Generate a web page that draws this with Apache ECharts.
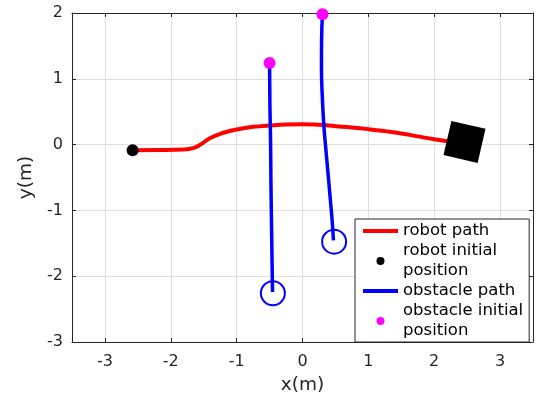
<!DOCTYPE html>
<html>
<head>
<meta charset="utf-8">
<script src="https://cdn.jsdelivr.net/npm/echarts@6/dist/echarts.min.js"></script>
<style>
  html, body { margin: 0; padding: 0; background: #fff; }
  #chart { width: 556px; height: 398px; }
</style>
</head>
<body>
<div id="chart"></div>
<script>
// robot trajectory (x, y in metres)
const robotPath = [
  [-2.58, -0.085], [-2.2, -0.083], [-1.8, -0.075], [-1.65, -0.05], [-1.55, 0.0],
  [-1.4, 0.1], [-1.2, 0.18], [-1.0, 0.23], [-0.75, 0.27], [-0.5, 0.29],
  [-0.25, 0.305], [0, 0.31], [0.25, 0.3], [0.5, 0.28], [0.75, 0.26],
  [1.0, 0.235], [1.25, 0.205], [1.5, 0.17], [1.75, 0.125], [2.0, 0.08], [2.2, 0.05]
]
const robotStart = [[-2.58, -0.085]]
const robotBody = [[2.46, 0.04]]

// obstacle trajectories
const obstacle1Path = [
  [-0.5, 1.24], [-0.495, 0.6], [-0.485, 0.07], [-0.48, -0.5],
  [-0.474, -0.95], [-0.465, -1.6], [-0.455, -2.24]
]
const obstacle2Path = [
  [0.303, 1.98], [0.29, 1.59], [0.288, 1.18], [0.303, 0.676], [0.324, 0.295],
  [0.35, -0.02], [0.379, -0.34], [0.424, -0.85], [0.45, -1.15], [0.47, -1.455]
]
const obstacleStarts = [[-0.5, 1.24], [0.303, 1.98]]
const obstacleEnds = [[-0.45, -2.26], [0.48, -1.475]]

const legendNames = ['robot path', 'robot initial\nposition', 'obstacle path', 'obstacle initial\nposition']

const axisColor = '#262626'
const gridColor = '#dedede'
const font = 'DejaVu Sans'

const chart = echarts.init(document.getElementById('chart'))

const xBase = {
  type: 'value', min: -3.5, max: 3.5, splitNumber: 7,
  axisLine: { show: true, onZero: false, lineStyle: { color: axisColor } },
  axisTick: { inside: true, length: 4, lineStyle: { color: axisColor } }
}
const yBase = {
  type: 'value', min: -3, max: 2, interval: 1,
  axisLine: { show: true, onZero: false, lineStyle: { color: axisColor } },
  axisTick: { inside: true, length: 4, lineStyle: { color: axisColor } }
}

chart.setOption({
  animation: false,
  grid: { left: 72, right: 23, top: 13, bottom: 56, containLabel: false, outerBoundsMode: 'none' },
  xAxis: [
    Object.assign({}, xBase, {
      position: 'bottom',
      name: 'x(m)', nameLocation: 'middle', nameGap: 34,
      nameTextStyle: { color: axisColor, fontSize: 18.5, fontFamily: font },
      axisLabel: { color: axisColor, fontSize: 16, fontFamily: font, margin: 12,
        showMinLabel: false, showMaxLabel: false },
      splitLine: { show: true, lineStyle: { color: gridColor } }
    }),
    Object.assign({}, xBase, {
      position: 'top', axisLabel: { show: false }, splitLine: { show: false }
    })
  ],
  yAxis: [
    Object.assign({}, yBase, {
      position: 'left',
      name: 'y(m)', nameLocation: 'middle', nameGap: 27, nameRotate: 90,
      nameTextStyle: { color: axisColor, fontSize: 18.5, fontFamily: font },
      axisLabel: { color: axisColor, fontSize: 16, fontFamily: font, margin: 9 },
      splitLine: { show: true, lineStyle: { color: gridColor } }
    }),
    Object.assign({}, yBase, {
      position: 'right', axisLabel: { show: false }, splitLine: { show: false }
    })
  ],
  legend: {
    orient: 'vertical',
    left: 355, top: 219,
    padding: [2, 6, 1, 8],
    itemGap: 0,
    itemWidth: 35, itemHeight: 8,
    backgroundColor: '#fff',
    borderColor: axisColor, borderWidth: 1,
    textStyle: { color: '#000', fontSize: 16.5, fontFamily: font, lineHeight: 20 },
    data: [
      { name: legendNames[0], icon: 'path://M0 0H35V4H0Z' },
      { name: legendNames[1], icon: 'circle' },
      { name: legendNames[2], icon: 'path://M0 0H35V4H0Z' },
      { name: legendNames[3], icon: 'circle' }
    ]
  },
  series: [
    {
      name: legendNames[0], type: 'line', data: robotPath, smooth: true,
      showSymbol: false, symbol: 'none', color: '#ff0000',
      lineStyle: { width: 4, color: '#ff0000' }, z: 2
    },
    {
      name: 'robot', type: 'scatter', data: robotBody, symbol: 'rect',
      symbolSize: 35, symbolRotate: -13, itemStyle: { color: '#000', opacity: 1 }, z: 3
    },
    {
      name: legendNames[2], type: 'line', data: obstacle1Path, smooth: true,
      showSymbol: false, symbol: 'none', color: '#0000ff',
      lineStyle: { width: 3.5, color: '#0000ff' }, z: 4
    },
    {
      name: legendNames[2], type: 'line', data: obstacle2Path, smooth: true,
      showSymbol: false, symbol: 'none', color: '#0000ff',
      lineStyle: { width: 3.5, color: '#0000ff' }, z: 4
    },
    {
      name: 'obstacle', type: 'scatter', data: obstacleEnds, symbol: 'circle',
      symbolSize: 24,
      itemStyle: { color: 'rgba(0,0,0,0)', borderColor: '#0000ff', borderWidth: 2, opacity: 1 }, z: 5
    },
    {
      name: legendNames[1], type: 'scatter', data: robotStart, symbolSize: 12,
      itemStyle: { color: '#000', opacity: 1 }, color: '#000', z: 6
    },
    {
      name: legendNames[3], type: 'scatter', data: obstacleStarts, symbolSize: 12,
      itemStyle: { color: '#ff00ff', opacity: 1 }, color: '#ff00ff', z: 6
    }
  ]
})
</script>
</body>
</html>
